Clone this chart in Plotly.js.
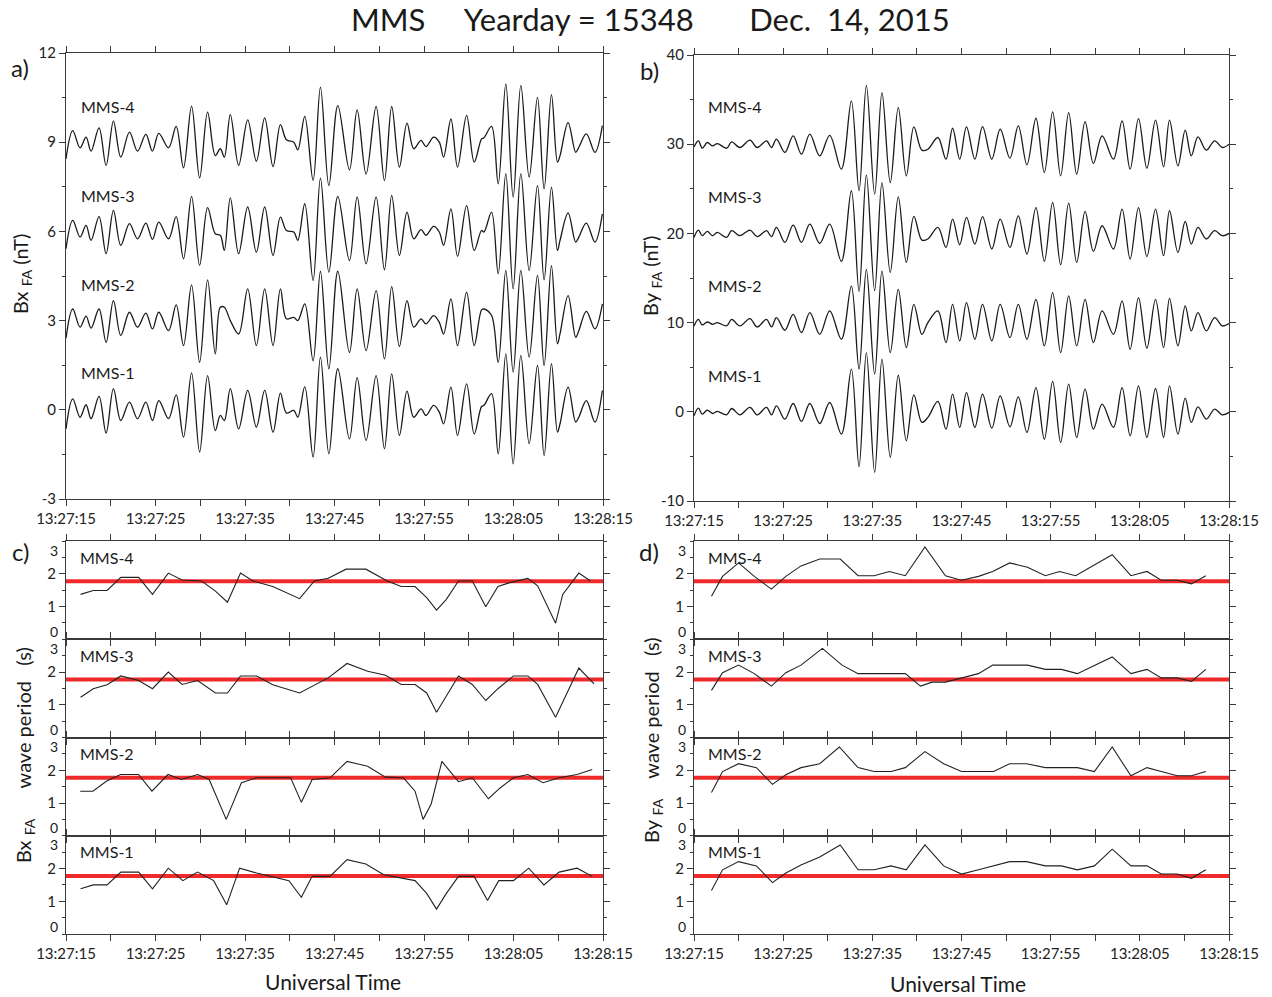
<!DOCTYPE html>
<html><head><meta charset="utf-8">
<script src="https://cdn.plot.ly/plotly-3.0.1.min.js"></script>
<style>html,body{margin:0;padding:0;background:#fff}#chart{width:1272px;height:997px}</style>
</head><body><div id="chart"></div>
<script>
// ---------------- DATA ----------------
// time in seconds after 13:27:15 UT
const spacecraft = ['MMS-4','MMS-3','MMS-2','MMS-1'];
const timeTickVals = [0,10,20,30,40,50,60];
const timeTickText = ['13:27:15','13:27:25','13:27:35','13:27:45','13:27:55','13:28:05','13:28:15'];
const bxTickVals = [-3,0,3,6,9,12];
const byTickVals = [-10,0,10,20,30,40];
const periodTickVals = [1,2];

// Panel a: Bx_FA waveform extrema (nT, as plotted with offsets)
const bxTime = [0,0.75,1.57,2.24,2.8,3.69,4.48,5.3,6.12,7.09,7.99,8.92,9.66,10.37,11.46,12.31,13.13,14.03,14.93,15.82,16.68,17.24,17.69,18.36,19.29,20.3,21.27,22.2,23.13,23.96,24.63,25.45,25.9,26.68,27.61,28.43,29.37,30.37,31.67,32.53,33.53,34.65,35.58,36.39,37.25,38.1,38.85,39.67,40.22,41.08,41.71,42.19,43.01,43.75,44.76,45.61,46.43,46.7,47.55,48.29,49.14,49.96,50.82,51.75,52.68,53.42,54.24,54.91,55.2,56.1,56.95,57.3,58.14,59.1,59.93];
const bxMMS4 = [8.44,9.39,8.81,9.17,8.70,9.48,8.22,9.71,8.50,9.34,8.70,9.26,8.70,9.30,8.81,9.53,8.14,10.21,7.80,10.01,8.55,8.78,8.50,9.93,8.22,9.75,8.36,9.82,8.18,9.59,9.08,9.0,8.74,9.87,7.72,10.85,7.54,10.23,8.07,10.09,7.93,10.2,7.71,10.2,8.16,9.64,8.78,9.06,8.85,9.17,9.0,8.5,9.78,8.16,9.9,8.33,9.11,9.15,9.53,7.6,10.96,7.15,10.91,7.83,10.51,7.43,10.6,8.33,8.55,9.66,8.66,8.83,9.28,8.66,9.56];
const bxMMS3 = [5.42,6.37,5.81,6.2,5.7,6.5,5.25,6.71,5.53,6.26,5.75,6.28,5.73,6.31,5.75,6.5,5.08,7.18,4.86,6.8,5.92,5.87,5.36,7.13,5.25,6.82,5.3,6.82,5.19,6.48,6.03,5.98,5.7,6.93,4.35,7.79,4.63,7.18,5.02,7.16,4.91,7.16,4.71,7.21,5.19,6.65,5.75,6.06,5.87,6.17,5.98,5.53,6.76,5.16,6.87,5.36,6.03,5.98,6.65,4.58,7.94,4.07,7.94,4.69,7.55,4.37,7.49,5.36,5.7,6.62,5.64,5.81,6.28,5.64,6.59];
const bxMMS2 = [2.41,3.39,2.78,3.15,2.75,3.39,2.27,3.67,2.5,3.28,2.78,3.25,2.72,3.28,2.66,3.53,2.16,4.2,1.6,4.37,1.88,3.45,3.45,3.0,2.55,4.07,2.16,4.07,2.16,4.07,3.06,3.11,3.0,3.56,1.65,4.66,1.38,4.66,1.93,4.07,1.99,4.01,1.71,4.14,2.13,3.67,2.78,3.06,2.89,3.17,2.94,2.55,3.73,2.16,3.96,2.16,3.36,3.39,3.17,1.6,4.69,1.27,4.69,1.77,4.52,1.49,4.85,2.22,2.56,3.84,2.44,2.66,3.31,2.72,3.56];
const bxMMS1 = [-0.64,0.37,-0.25,0.17,-0.3,0.45,-0.78,0.71,-0.36,0.26,-0.3,0.26,-0.36,0.31,-0.3,0.5,-0.92,1.24,-1.42,1.15,-0.7,-0.19,-0.36,0.71,-0.64,0.65,-0.58,0.65,-0.75,0.56,-0.11,-0.02,-0.25,0.78,-1.59,1.77,-1.48,1.38,-0.98,1.08,-1.03,1.15,-1.31,1.21,-0.86,0.63,-0.25,0.03,-0.19,0.15,-0.08,-0.47,0.76,-0.86,0.87,-0.81,0.11,0.15,0.54,-1.48,1.88,-1.82,1.83,-1.14,1.49,-1.54,1.55,-0.75,-0.47,0.76,-0.41,-0.25,0.31,-0.41,0.65];

// Panel b: By_FA waveform extrema (nT, as plotted with offsets)
const byTime = [0,0.49,0.93,1.49,2.09,2.61,3.66,4.22,5.15,6.27,7.09,8.13,8.69,9.25,10.19,11.12,12.05,12.99,14.1,15.22,16.53,17.65,18.51,19.33,20.26,21.08,22.01,22.91,23.81,24.66,25.56,26.23,27.35,28.26,29.0,29.8,30.56,31.5,32.36,33.4,34.34,35.43,36.37,37.34,38.35,39.29,40.22,41.12,42.02,42.92,43.86,44.79,45.77,47.04,48.01,48.91,49.85,50.79,51.76,52.66,53.33,54.27,55.09,55.77,56.52,57.45,58.39,59.25,60];
const byMMS4 = [29.7,30.37,29.55,30.19,29.81,30.07,29.55,30.26,29.63,30.45,29.63,30.37,29.63,30.56,29.07,30.93,28.88,31.12,28.69,31.0,27.2,34.85,24.78,36.6,24.4,35.78,25.7,34.1,26.45,31.94,29.33,29.44,30.75,28.32,31.79,28.32,31.94,28.32,31.98,28.32,31.68,28.43,32.05,27.69,32.91,26.83,33.62,26.46,33.54,26.64,32.54,27.84,30.93,28.32,32.61,27.2,32.87,27.31,32.69,27.46,32.69,27.57,31.57,28.69,30.82,29.33,30.37,29.63,30.0];
const byMMS3 = [19.55,20.37,19.74,20.22,19.74,20.11,19.55,20.3,19.74,20.37,19.63,20.3,19.63,20.67,19.0,20.93,19.0,21.04,18.88,21.04,16.87,24.78,13.5,26.57,13.58,25.7,15.63,24.1,16.75,21.9,19.25,19.37,20.67,18.43,21.6,18.73,21.79,18.8,21.87,18.25,21.6,18.43,21.97,17.69,22.9,16.87,23.47,16.49,23.4,16.75,22.46,17.99,20.86,18.25,22.72,17.13,22.9,17.39,22.72,17.5,22.54,17.87,21.34,18.81,20.67,19.37,20.3,19.74,20.0];
const byMMS2 = [9.63,10.37,9.74,10.07,9.81,10.0,9.63,10.37,9.63,10.45,9.51,10.37,9.51,10.56,9.14,10.93,8.88,11.12,8.69,11.31,8.13,14.1,4.78,15.97,4.22,15.78,6.64,13.73,7.2,12.05,8.69,10.0,11.3,7.76,12.05,7.95,12.24,8.13,12.05,7.95,12.05,8.32,12.05,8.13,12.61,7.39,13.36,6.64,12.99,7.39,12.61,7.76,11.31,8.69,12.43,7.01,12.8,7.13,12.61,7.2,12.72,7.39,11.87,9.07,11.12,9.07,10.56,9.63,9.9];
const byMMS1 = [-0.45,0.41,-0.26,0.19,-0.19,0.04,-0.34,0.37,-0.34,0.49,-0.34,0.49,-0.34,0.67,-0.82,0.93,-1.08,0.93,-1.31,1.04,-2.5,4.78,-6.16,6.64,-6.79,5.9,-5.11,4.1,-3.25,1.9,-1.19,-0.63,1.16,-1.94,1.98,-1.75,2.16,-1.75,1.98,-1.83,1.79,-1.68,1.68,-2.31,2.72,-3.06,3.4,-3.43,3.1,-2.87,2.54,-1.94,0.86,-1.75,2.72,-2.69,2.91,-2.87,2.61,-2.87,2.91,-2.5,1.53,-1.19,0.56,-0.82,0.3,-0.34,-0.07];

// Panel c: Bx_FA wave period (s)
const bxPerTime4 = [1.63,3.04,4.59,6.13,8.12,9.66,11.43,12.97,15.15,16.7,18.04,19.5,20.9,23.1,26.1,27.75,29.3,31.3,33.5,35.9,37.45,39.0,40.3,41.4,42.5,43.85,45.4,46.9,48.26,49.6,51.6,52.7,54.7,55.5,57.3,58.6];
const bxPer4 = [1.37,1.49,1.49,1.89,1.89,1.37,2.02,1.81,1.78,1.47,1.13,2.02,1.78,1.61,1.24,1.78,1.86,2.14,2.14,1.78,1.61,1.61,1.27,0.89,1.22,1.78,1.78,0.99,1.61,1.73,1.86,1.63,0.49,1.37,2.02,1.78];
const bxPerTime3 = [1.63,3.04,4.59,6.13,8.12,9.66,11.43,12.97,14.7,16.7,18.04,19.5,21.3,23.1,26.1,29.3,31.4,33.7,35.7,37.45,39.0,40.3,41.4,43.85,45.4,46.9,48.26,50.0,51.6,52.7,54.7,57.3,59.0];
const bxPer3 = [1.23,1.49,1.61,1.88,1.74,1.49,2.0,1.62,1.74,1.36,1.36,1.88,1.88,1.61,1.36,1.82,2.26,2.02,1.9,1.62,1.62,1.36,0.77,1.88,1.62,1.13,1.49,1.88,1.88,1.62,0.62,2.12,1.64];
const bxPerTime2 = [1.59,3.0,4.55,6.1,8.1,9.6,11.4,12.9,14.7,16.0,17.9,19.6,21.3,25.1,26.3,27.5,29.5,31.4,33.7,35.7,37.7,39.0,39.9,40.8,42.0,43.85,45.4,47.2,48.5,50.0,51.6,53.3,55.1,57.1,58.8];
const bxPer2 = [1.36,1.36,1.67,1.87,1.87,1.36,1.87,1.72,1.87,1.72,0.5,1.62,1.77,1.77,1.02,1.72,1.77,2.27,2.12,1.79,1.77,1.36,0.5,0.97,2.27,1.65,1.77,1.13,1.46,1.77,1.87,1.62,1.77,1.87,2.02];
const bxPerTime1 = [1.63,3.04,4.59,6.13,8.12,9.66,11.43,13.06,14.7,16.5,17.95,19.4,21.3,24.9,26.3,27.5,29.5,31.4,33.5,35.5,39.0,40.3,41.4,42.5,43.85,45.6,47.1,48.35,50.0,51.7,53.4,55.1,57.1,58.8];
const bxPer1 = [1.38,1.5,1.5,1.89,1.89,1.38,2.01,1.63,1.89,1.63,0.89,2.01,1.86,1.63,1.12,1.76,1.76,2.27,2.14,1.81,1.63,1.24,0.76,1.24,1.76,1.76,1.02,1.63,1.63,2.01,1.5,1.89,2.01,1.76];

// Panel d: By_FA wave period (s)
const byPerTime4 = [1.96,3.2,5.0,6.76,8.68,10.3,12.0,14.1,16.4,18.4,20.2,21.9,23.7,25.9,28.2,30.0,31.9,33.5,35.4,37.4,39.4,41.0,42.8,44.9,46.9,49.0,50.8,52.4,54.2,55.8,57.4];
const byPer4 = [1.31,1.92,2.33,1.92,1.53,1.92,2.24,2.45,2.45,1.94,1.94,2.07,1.94,2.82,1.94,1.8,1.92,2.07,2.33,2.2,1.94,2.07,1.94,2.28,2.58,1.94,2.07,1.8,1.8,1.69,1.94];
const byPerTime3 = [1.96,3.2,5.0,6.76,8.68,10.3,12.0,14.4,16.6,18.4,20.2,21.9,23.7,25.4,26.7,28.2,30.0,31.9,33.5,35.4,37.4,39.4,41.2,43.0,45.1,46.9,49.0,50.8,52.4,54.2,55.8,57.4];
const byPer3 = [1.44,1.98,2.21,1.95,1.57,1.98,2.21,2.72,2.21,1.95,1.95,1.95,1.95,1.57,1.69,1.69,1.82,1.95,2.21,2.21,2.21,2.08,2.08,1.95,2.23,2.46,1.95,2.08,1.82,1.82,1.71,2.08];
const byPerTime2 = [1.96,3.2,5.0,7.0,8.8,10.3,12.0,14.1,16.3,18.4,20.2,22.1,23.7,25.9,28.0,30.0,31.9,33.6,35.4,37.3,39.4,41.2,43.0,44.9,46.9,49.0,50.8,52.4,54.2,55.8,57.4];
const byPer2 = [1.32,1.96,2.2,2.08,1.57,1.86,2.08,2.2,2.71,2.08,1.96,1.96,2.08,2.57,2.2,1.96,1.96,1.96,2.2,2.2,2.08,2.08,2.08,1.96,2.71,1.83,2.08,1.96,1.83,1.83,1.96];
const byPerTime1 = [1.96,3.2,5.0,7.0,8.8,10.3,12.0,14.1,16.4,18.4,20.2,22.1,23.8,25.9,28.0,30.0,31.9,33.6,35.4,37.3,39.4,41.2,43.0,44.9,46.9,49.0,50.8,52.4,54.2,55.8,57.4];
const byPer1 = [1.33,1.96,2.21,2.08,1.57,1.86,2.11,2.35,2.72,1.96,1.96,2.08,1.96,2.72,2.08,1.83,1.96,2.08,2.21,2.21,2.08,2.08,1.96,2.08,2.59,2.08,2.08,1.83,1.83,1.7,1.96];

const periodThreshold = 1.77;   // red reference line (s)
const timeSpan = [0, 60];

// ---------------- CHART ----------------
const W = 1272, H = 997;
const px = v => v / W, py = v => 1 - v / H;
const FONT = 'Lato, "Open Sans", "DejaVu Sans", sans-serif';
const INK = '#1a1a1a', AX = '#3a3a3a';

const traces = [];
const wave = (x, y, xa, ya) => ({x, y, xaxis: xa, yaxis: ya, type: 'scatter', mode: 'lines',
  line: {color: INK, width: 1.3, shape: 'spline', smoothing: 1}, hoverinfo: 'skip'});
[bxMMS4, bxMMS3, bxMMS2, bxMMS1].forEach(s => traces.push(wave(bxTime, s, 'x', 'y')));
[byMMS4, byMMS3, byMMS2, byMMS1].forEach(s => traces.push(wave(byTime, s, 'x2', 'y2')));

const bxPer = [[bxPerTime4, bxPer4], [bxPerTime3, bxPer3], [bxPerTime2, bxPer2], [bxPerTime1, bxPer1]];
const byPer = [[byPerTime4, byPer4], [byPerTime3, byPer3], [byPerTime2, byPer2], [byPerTime1, byPer1]];
function addPeriod(list, firstIdx) {
  list.forEach((d, i) => {
    const n = firstIdx + i;
    traces.push({x: timeSpan, y: [periodThreshold, periodThreshold], xaxis: 'x' + n, yaxis: 'y' + n,
      type: 'scatter', mode: 'lines', line: {color: '#ee2a2a', width: 4}, hoverinfo: 'skip'});
    traces.push({x: d[0], y: d[1], xaxis: 'x' + n, yaxis: 'y' + n, type: 'scatter', mode: 'lines',
      line: {color: '#222', width: 1.1}, hoverinfo: 'skip'});
  });
}
addPeriod(bxPer, 3);
addPeriod(byPer, 7);

const tickFont = {family: FONT, size: 15, color: '#222'};
function xAxis(x0, x1, anchor, labels) {
  return {domain: [px(x0), px(x1)], anchor, range: timeSpan, tickmode: 'array',
    tickvals: timeTickVals, ticktext: timeTickText, showticklabels: labels,
    ticks: 'outside', ticklen: 6, tickwidth: 1, tickcolor: AX,
    minor: {tickmode: 'linear', tick0: 0, dtick: 5, ticks: 'outside', ticklen: 6, tickcolor: AX, showgrid: false},
    showline: true, linecolor: AX,
    linewidth: 1, mirror: 'ticks', showgrid: false, zeroline: false, tickfont: tickFont, fixedrange: true};
}
function yAxis(top, bottom, anchor, range, minorDtick, tickvals, ticktext) {
  return {domain: [py(bottom), py(top)], anchor, range, tickmode: 'array', tickvals, ticktext,
    ticks: 'outside', ticklen: 6, tickwidth: 1, tickcolor: AX,
    minor: {tickmode: 'linear', tick0: 0, dtick: minorDtick, ticks: 'outside', ticklen: 3, tickcolor: AX, showgrid: false},
    showline: true, linecolor: AX, linewidth: 1, mirror: 'ticks', showgrid: false, zeroline: false,
    tickfont: tickFont, fixedrange: true};
}

const layout = {width: W, height: H, margin: {l: 0, r: 0, t: 0, b: 0}, paper_bgcolor: '#fff',
  plot_bgcolor: '#fff', showlegend: false, font: {family: FONT, color: '#222'}, annotations: []};

const AX0 = 66, AX1 = 603, BX0 = 694, BX1 = 1229;
layout.xaxis = xAxis(AX0, AX1, 'y', true);
layout.yaxis = yAxis(53, 499, 'x', [-3, 12], 1.5, bxTickVals, bxTickVals.map(String));
layout.xaxis2 = xAxis(BX0, BX1, 'y2', true);
layout.yaxis2 = yAxis(55, 501, 'x2', [-10, 40], 5, byTickVals, byTickVals.map(String));

const note = (x, y, text, size, extra) => layout.annotations.push(Object.assign({xref: 'paper', yref: 'paper',
  x: px(x), y: py(y), text, showarrow: false, xanchor: 'center', yanchor: 'middle', borderpad: 0,
  font: {family: FONT, size, color: '#1a1a1a'}}, extra || {}));

const subTop = 541, subH = 98.25;
for (let i = 0; i < 4; i++) {
  const t = subTop + i * subH, b = t + subH;
  [[3 + i, AX0, AX1], [7 + i, BX0, BX1]].forEach(([n, x0, x1]) => {
    layout['xaxis' + n] = xAxis(x0, x1, 'y' + n, i === 3);
    layout['yaxis' + n] = yAxis(t, b, 'x' + n, [0, 3.0], 0.5, periodTickVals, periodTickVals.map(String));
    // end labels (3 and 0) drawn just inside the sub-panel so that they do not collide
    note(x0 - 7, t + 9, '3', 14, {xanchor: 'right'});
    note(x0 - 7, b - 8, '0', 14, {xanchor: 'right'});
    note(x0 + 13, t + 16, spacecraft[i], 16, {xanchor: 'left'});
  });
}

const NB = '\u00A0';
note(650, 19, 'MMS' + NB.repeat(5) + 'Yearday = 15348' + NB.repeat(7) + 'Dec.' + NB + NB + '14, 2015', 31);
// stacked spacecraft labels in the waveform panels
[106, 195, 284, 373].forEach((y, i) => note(80, y, spacecraft[i], 16, {xanchor: 'left'}));
[107, 197, 286, 375].forEach((y, i) => note(707, y, spacecraft[i], 16, {xanchor: 'left'}));
note(20, 68, 'a)', 24); note(649, 70, 'b)', 24); note(20, 551, 'c)', 24); note(649, 551, 'd)', 24);
note(22, 274, 'Bx <sub>FA</sub> (nT)', 20, {textangle: -90});
note(651, 276, 'By <sub>FA</sub> (nT)', 20, {textangle: -90});
note(24, 755, 'Bx <sub>FA</sub>' + NB.repeat(6) + 'wave period' + NB.repeat(3) + '(s)', 20, {textangle: -90});
note(652, 740, 'By <sub>FA</sub>' + NB.repeat(4) + 'wave period' + NB.repeat(3) + '(s)', 20, {textangle: -90});
note(333, 981, 'Universal Time', 21);
note(958, 983, 'Universal Time', 21);

Plotly.newPlot('chart', traces, layout, {staticPlot: true, displayModeBar: false});
</script>
</body></html>
